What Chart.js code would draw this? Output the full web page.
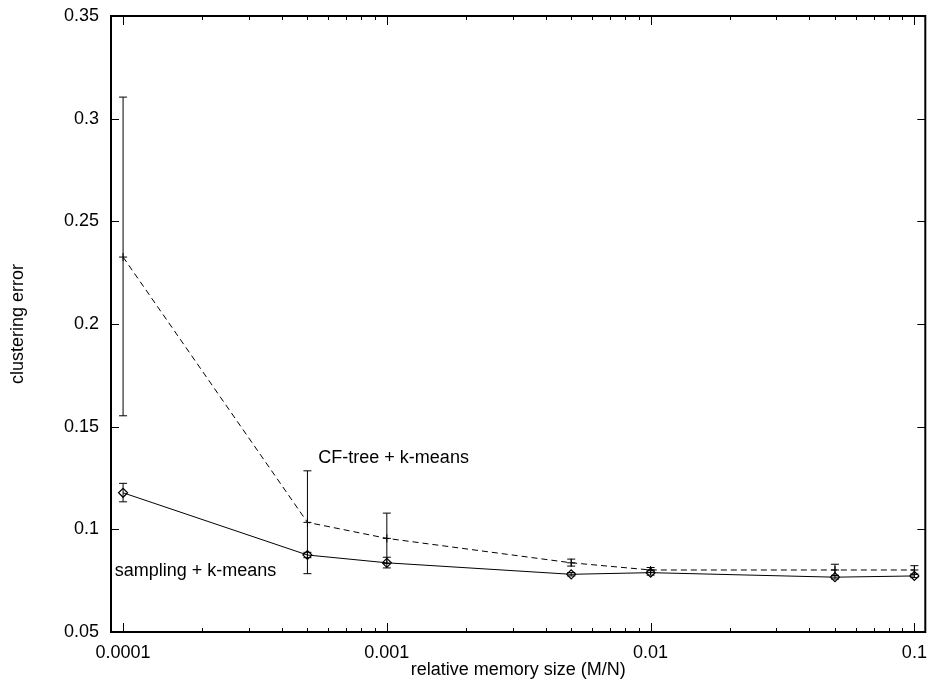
<!DOCTYPE html>
<html>
<head>
<meta charset="utf-8">
<script src="https://cdn.jsdelivr.net/npm/chart.js@4"></script>
<style>
  body { margin: 0; background: #fff; }
  canvas { display: block; }
</style>
</head>
<body>
<canvas id="errChart" width="931" height="686"></canvas>
<script>
// relative memory size M/N
var memSizes = [0.0001, 0.0005, 0.001, 0.005, 0.01, 0.05, 0.1];

// CF-tree + k-means: mean and error bar ends
var cfTreeErr  = [0.2326, 0.1034, 0.0956, 0.0837, 0.0802, 0.0802, 0.0802];
var cfTreeLow  = [0.1553, 0.0784, 0.0833, 0.0821, 0.0791, 0.0775, 0.0782];
var cfTreeHigh = [0.3105, 0.1285, 0.1079, 0.0855, 0.0814, 0.0830, 0.0823];

// sampling + k-means: mean and error bar ends
var samplingErr  = [0.1178, 0.0875, 0.0837, 0.0781, 0.0789, 0.0767, 0.0773];
var samplingLow  = [0.1134, 0.0862, 0.0812, 0.0773, 0.0777, 0.0758, 0.0765];
var samplingHigh = [0.1224, 0.0888, 0.0864, 0.0790, 0.0801, 0.0776, 0.0781];

var xTickLabels = ['0.0001', '0.001', '0.01', '0.1'];
var yTickLabels = ['0.05', '0.1', '0.15', '0.2', '0.25', '0.3', '0.35'];

// text labels next to the curves (left edge, vertical middle)
var cfLabel = {text: 'CF-tree + k-means', x: 0.00055, y: 0.1349};
var samplingLabel = {text: 'sampling + k-means', x: 0.000093, y: 0.0797};

Chart.defaults.font.family = '"Liberation Sans", Arial, sans-serif';
Chart.defaults.font.size = 18;
Chart.defaults.color = '#000';

function toPoints(ys) {
    return memSizes.map(function (x, i) { return {x: x, y: ys[i]}; });
}

// error bars, frame, inward ticks and curve labels
var gnuplotLook = {
    id: 'gnuplotLook',
    afterDatasetsDraw: function (chart) {
        var ctx = chart.ctx;
        var xs = chart.scales.x, ys = chart.scales.y;
        var area = chart.chartArea;

        ctx.save();
        ctx.strokeStyle = '#000';
        ctx.lineWidth = 1;
        chart.data.datasets.forEach(function (ds) {
            ds.data.forEach(function (p, i) {
                var px = xs.getPixelForValue(p.x);
                var lo = ys.getPixelForValue(ds.errLow[i]);
                var hi = ys.getPixelForValue(ds.errHigh[i]);
                ctx.beginPath();
                ctx.moveTo(px, lo); ctx.lineTo(px, hi);
                ctx.moveTo(px - 4, lo); ctx.lineTo(px + 4, lo);
                ctx.moveTo(px - 4, hi); ctx.lineTo(px + 4, hi);
                ctx.stroke();
            });
        });

        // ticks on all four sides
        ctx.beginPath();
        xs.ticks.forEach(function (t) {
            var px = Math.round(xs.getPixelForValue(t.value)) + 0.5;
            var len = t.major ? 9 : 4;
            ctx.moveTo(px, area.bottom); ctx.lineTo(px, area.bottom - len);
            ctx.moveTo(px, area.top); ctx.lineTo(px, area.top + len);
        });
        ys.ticks.forEach(function (t) {
            var py = Math.round(ys.getPixelForValue(t.value)) + 0.5;
            ctx.moveTo(area.left, py); ctx.lineTo(area.left + 8, py);
            ctx.moveTo(area.right, py); ctx.lineTo(area.right - 8, py);
        });
        ctx.stroke();

        ctx.lineWidth = 2;
        ctx.strokeRect(area.left, area.top, area.right - area.left, area.bottom - area.top);

        ctx.fillStyle = '#000';
        ctx.font = '18px "Liberation Sans", Arial, sans-serif';
        ctx.textAlign = 'left';
        ctx.textBaseline = 'middle';
        [cfLabel, samplingLabel].forEach(function (l) {
            ctx.fillText(l.text, xs.getPixelForValue(l.x), ys.getPixelForValue(l.y));
        });
        ctx.restore();
    }
};

var errChart = new Chart(document.getElementById('errChart'), {
    type: 'line',
    data: {
        datasets: [
            {
                label: 'CF-tree + k-means',
                data: toPoints(cfTreeErr),
                errLow: cfTreeLow,
                errHigh: cfTreeHigh,
                borderColor: '#000',
                borderWidth: 1,
                borderDash: [6, 4],
                pointStyle: 'cross',
                pointRadius: 4,
                pointBorderColor: '#000',
                pointBorderWidth: 1,
                fill: false,
                tension: 0
            },
            {
                label: 'sampling + k-means',
                data: toPoints(samplingErr),
                errLow: samplingLow,
                errHigh: samplingHigh,
                borderColor: '#000',
                borderWidth: 1,
                pointStyle: 'rectRot',
                pointRadius: 4.5,
                pointBorderColor: '#000',
                pointBackgroundColor: 'rgba(0,0,0,0)',
                pointBorderWidth: 1.2,
                fill: false,
                tension: 0
            }
        ]
    },
    options: {
        responsive: false,
        animation: false,
        devicePixelRatio: 1,
        layout: {padding: {top: 16, right: 3, left: 0, bottom: 0}},
        plugins: {
            legend: {display: false},
            tooltip: {enabled: false}
        },
        scales: {
            x: {
                type: 'logarithmic',
                min: 0.00009,
                max: 0.11,
                border: {display: false},
                grid: {display: false, drawTicks: false},
                afterBuildTicks: function (scale) {
                    var ticks = [];
                    for (var e = -4; e <= -1; e++) {
                        for (var m = 1; m <= 9; m++) {
                            var v = m * Math.pow(10, e);
                            if (v <= scale.max) ticks.push({value: v, major: m === 1});
                        }
                    }
                    scale.ticks = ticks;
                },
                afterFit: function (scale) {
                    scale.height = 54;
                    scale.paddingLeft = 0;
                    scale.paddingRight = 0;
                },
                ticks: {
                    autoSkip: false,
                    maxRotation: 0,
                    padding: 10,
                    callback: function (value) {
                        var e = Math.round(Math.log10(value));
                        return Math.abs(value - Math.pow(10, e)) < 1e-12 ? xTickLabels[e + 4] : '';
                    }
                },
                title: {
                    display: true,
                    text: 'relative memory size (M/N)',
                    padding: {top: 0, bottom: 5}
                }
            },
            y: {
                min: 0.05,
                max: 0.35,
                border: {display: false},
                grid: {display: false, drawTicks: false},
                afterFit: function (scale) {
                    scale.width = 111;
                    scale.paddingTop = 0;
                    scale.paddingBottom = 0;
                },
                ticks: {
                    stepSize: 0.05,
                    padding: 12,
                    callback: function (value, index) { return yTickLabels[index]; }
                },
                title: {
                    display: true,
                    text: 'clustering error',
                    padding: {top: 7, bottom: 0}
                }
            }
        }
    },
    plugins: [gnuplotLook]
});
</script>
</body>
</html>
